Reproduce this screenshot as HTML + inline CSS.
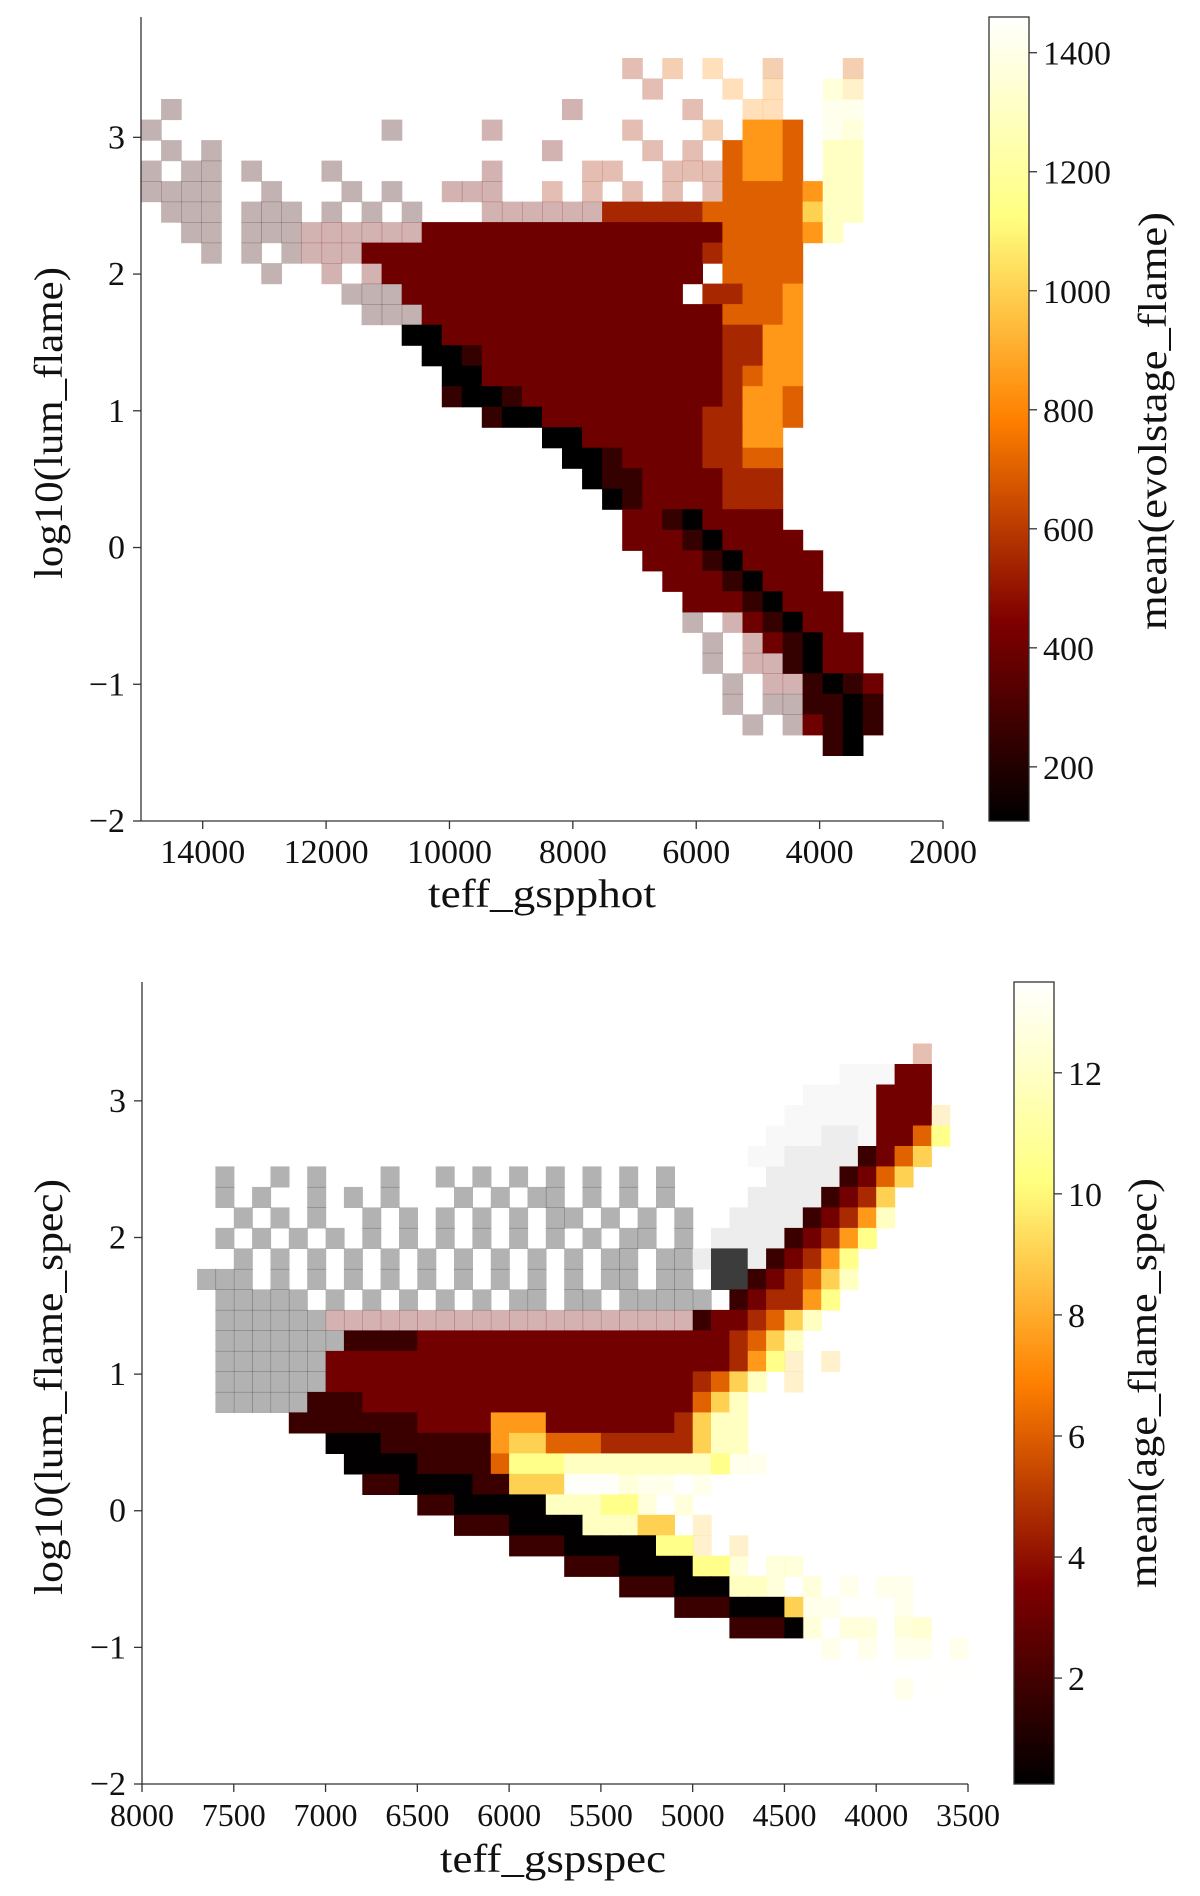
<!DOCTYPE html>
<html><head><meta charset="utf-8"><title>HR diagrams</title>
<style>
html,body{margin:0;padding:0;background:#fff;}
svg{display:block;font-family:"Liberation Serif","DejaVu Serif",serif;}
</style></head>
<body>
<svg id="fig" width="1200" height="1896" viewBox="0 0 1200 1896" xmlns="http://www.w3.org/2000/svg">
<defs>
<linearGradient id="afm" x1="0" y1="1" x2="0" y2="0">
<stop offset="0" stop-color="#000000"/><stop offset="0.25" stop-color="#800000"/><stop offset="0.5" stop-color="#ff8000"/><stop offset="0.75" stop-color="#ffff80"/><stop offset="1" stop-color="#ffffff"/>
</linearGradient>
</defs>
<g id="top"></g>
<g id="bot"></g>
</svg>
<script>
// ---- data: heatmap rows, "startCol:levels" segments (0-9 solid, a-j sparse, p/q/r grey) ----
const topXTicks = [14000, 12000, 10000, 8000, 6000, 4000, 2000];
const topYTicks = [-2, -1, 0, 1, 2, 3];
const topCbarTicks = [200, 400, 600, 800, 1000, 1200, 1400];
const topLevelValues = [100, 250, 400, 550, 700, 850, 1000, 1150, 1300, 1450];
const topRows = [
"", "",
"24:d.e.f 31:e 35:e",
"25:d 29:f.f 34:hg",
"1:b 21:c 27:d 30:ff 34:ii",
"0:b 12:b 17:c 24:d 28:e 30:554 34:ih",
"1:b.b 20:c 25:d.d 29:4554 34:88",
"0:b.bb.b 9:b 17:c 22:dd 26:ddd4554 34:88",
"0:bbbb 6:b 10:b.b 15:ccc 20:d.d.d.d.d4444588",
"1:bbb 5:bbb 9:b.b.b 17:cccccc33333 28:44444 33:6 34:88",
"2:bb 5:bbb 8:cccccc222222222222222 29:44445 34:8",
"3:b.b.b 8:ccc22222222222222222 28:34444",
"6:b 9:c.c 12:2222222222222222 29:4444",
"10:bbb 13:22222222222222 28:33445",
"11:bbb 14:222222222222222 29:4445",
"13:00 15:22222222222222 29:3355",
"14:001 17:222222222222 29:3355",
"15:00 17:222222222222 29:3455",
"15:1001 19:2222222222 29:3554",
"17:100 20:22222222 28:33554",
"20:00 22:222222 28:3355",
"21:001 24:2222 28:3344",
"22:011 25:2222 29:333",
"23:01 25:2222 29:333",
"24:22102222",
"24:222102222",
"25:222102222",
"26:22210222",
"27:22210222",
"27:b.c21022",
"28:b.c21022",
"28:b.cc1022",
"29:b.cc1012",
"29:b.bb1101",
"30:b.b2101",
"34:10",
"", "", "", ""
];
const botXTicks = [8000, 7500, 7000, 6500, 6000, 5500, 5000, 4500, 4000, 3500];
const botYTicks = [-2, -1, 0, 1, 2, 3];
const botCbarTicks = [2, 4, 6, 8, 10, 12];
const botLevelValues = [0.3, 1.75, 3.2, 4.65, 6.1, 7.55, 9.0, 10.45, 11.9, 13.35];
const botRows = [
"", "", "",
"42:d",
"38:ppp 41:22",
"36:pppp 40:222",
"35:ppppp 40:222g",
"34:pppqqp 40:2247",
"33:ppqqqq 39:1246",
"4:a..a.a...a 16:a.a.a.a.a.a.a 34:qqqq 38:1246",
"4:a.a..a.a.a 16:.a.a.aa.a.a.a 33:qqqq 37:1236",
"4:.a.a.a..a.a.a.a.a.aa.a.a.a 32:qqqq 36:12358",
"4:a.a.a.a.a.a.a.a.a.a.a.aa.a 31:qqqq 35:12357",
"4:.a.a.a.a.a.a.a.a.a.a.aa.aa 30:qrrq 34:12357",
"3:aaa.a.a.a.a.a.a.a.a.a.aa.aa 31:rr 33:123468",
"4:aaaaa.a.a.a.a.a.aa.aa.aaaaa 32:123357",
"4:aaaaaa 10:cccccccccccccccccccc 30:1223468",
"4:aaaaaaa 11:1111222222222222222 30:223468",
"4:aaaaaa 10:222222222222222222222 31:2357 35:g.g",
"4:aaaaaa 10:22222222222222222222 30:3468 35:g",
"4:aaaaa 9:111 12:22222222 20:2222222 27:222 30:468",
"8:111 11:11112222 19:555 22:2222222 29:3688",
"10:000 13:111111 19:566 22:444 25:33333 30:688",
"11:0000 15:1111 19:4777 23:8888 27:8888 31:7ii",
"12:11 14:0000 18:11 20:666 23:999 26:hii.i",
"15:11 17:00000 22:888 25:77 27:h.h",
"17:111 20:0000 24:888 27:66 30:g",
"20:111 23:00000 28:77 30:g.g",
"23:111 26:0000 30:77 32:h.hh",
"26:111 29:000 32:88 34:h.h.i.ii",
"29:111 32:000 35:6iijjji",
"32:111 35:0 36:h.hh.hh 42:i",
"37:i.i.ii.i",
"39:j.j.jj",
"41:i.j",
"", "", "", "", ""
];

// ---- helpers ----
const NS = "http://www.w3.org/2000/svg";
function mk(tag, attrs, parent) {
  const e = document.createElementNS(NS, tag);
  for (const k in attrs) e.setAttribute(k, attrs[k]);
  parent.appendChild(e);
  return e;
}
function afmhot(t) {
  t = Math.max(0, Math.min(1, t));
  const c = x => Math.round(255 * Math.max(0, Math.min(1, x)));
  return "rgb(" + c(2 * t) + "," + c(2 * t - 0.5) + "," + c(2 * t - 1) + ")";
}
const greys = { p: "#f8f8f8", q: "#ededed", r: "#3c3c3c" };

function drawPanel(g, cfg) {
  const { xMin, xMax, x0, x1, yMin, yMax, y0, y1, cellX, cellY, rows, levels, vmin, vmax } = cfg;
  const sx = v => x0 + (xMin - v) / (xMin - xMax) * (x1 - x0);
  const sy = v => y1 - (v - yMin) / (yMax - yMin) * (y1 - y0);
  const heat = mk("g", {}, g);
  
  
  rows.forEach((row, i) => {
    const Ltop = yMax - i * cellY;
    row.split(" ").filter(s => s).forEach(seg => {
      const [st, chars] = seg.split(":");
      const start = +st;
      for (let k = 0; k < chars.length; k++) {
        const ch = chars[k];
        if (ch === ".") continue;
        const j = start + k;
        const xa = sx(xMin - j * cellX), xb = sx(xMin - (j + 1) * cellX);
        const ya = sy(Ltop), yb = sy(Ltop - cellY);
        let fill, op = 1;
        if (greys[ch]) fill = greys[ch];
        else {
          let lv;
          if (ch >= "0" && ch <= "9") lv = +ch;
          else { lv = ch.charCodeAt(0) - 97; op = 0.3; }
          fill = afmhot((levels[lv] - vmin) / (vmax - vmin));
        }
        const r = mk("rect", { x: xa.toFixed(1), y: ya.toFixed(1), width: (xb - xa + 0.6).toFixed(1), height: (yb - ya + 0.6).toFixed(1), fill: fill, "fill-opacity": op }, heat);
        
        
      }
    });
  });
  const ax = mk("g", { stroke: "#333", "stroke-width": 1.3, fill: "none" }, g);
  
  
  const ys = mk("line", { x1: x0, y1: y0, x2: x0, y2: y1 }, ax);
  
  
  const xs = mk("line", { x1: x0, y1: y1, x2: x1, y2: y1 }, ax);
  
  
  cfg.xTicks.forEach(t => {
    const x = sx(t);
    mk("line", { x1: x, y1: y1, x2: x, y2: y1 + 8 }, ax);
    const tx = mk("text", { x: x, y: y1 + 42, "text-anchor": "middle", "font-size": cfg.tickFont, fill: "#111", stroke: "none" }, g);
    tx.textContent = t;
    
    
  });
  cfg.yTicks.forEach(t => {
    const y = sy(t);
    mk("line", { x1: x0 - 8, y1: y, x2: x0, y2: y }, ax);
    const tx = mk("text", { x: x0 - 16, y: y + 11, "text-anchor": "end", "font-size": 34, fill: "#111", stroke: "none" }, g);
    tx.textContent = t < 0 ? "\u2212" + Math.abs(t) : t;
    
    
  });
  const cb = cfg.cbar;
  const cr = mk("rect", { x: cb.x, y: y0, width: cb.w, height: y1 - y0, fill: "url(#afm)", stroke: "#333", "stroke-width": 1.3 }, g);
  
  
  const cy = v => y1 - (v - vmin) / (vmax - vmin) * (y1 - y0);
  cb.ticks.forEach(t => {
    const y = cy(t);
    mk("line", { x1: cb.x + cb.w, y1: y, x2: cb.x + cb.w + 8, y2: y, stroke: "#333", "stroke-width": 1.3 }, g);
    const tx = mk("text", { x: cb.x + cb.w + 14, y: y + 12, "font-size": 34, fill: "#111" }, g);
    tx.textContent = t;
    
    
  });
  const xl = mk("text", { x: cfg.xl.x, y: cfg.xl.y, "text-anchor": "middle", "font-size": 40, textLength: cfg.xl.len, lengthAdjust: "spacingAndGlyphs", fill: "#111" }, g);
  xl.textContent = cfg.xl.t;
  
  
  const yl = mk("text", { x: 0, y: 0, transform: "translate(" + cfg.yl.x + "," + cfg.yl.y + ") rotate(-90)", "text-anchor": "middle", "font-size": 40, textLength: cfg.yl.len, lengthAdjust: "spacingAndGlyphs", fill: "#111" }, g);
  yl.textContent = cfg.yl.t;
  
  
  const cl = mk("text", { x: 0, y: 0, transform: "translate(" + cfg.cl.x + "," + cfg.cl.y + ") rotate(-90)", "text-anchor": "middle", "font-size": 40, textLength: cfg.cl.len, lengthAdjust: "spacingAndGlyphs", fill: "#111" }, g);
  cl.textContent = cfg.cl.t;
  
  
}

drawPanel(document.getElementById("top"), {
  xMin: 15000, xMax: 2000, x0: 141, x1: 943, yMin: -2, yMax: 3.88, y0: 17, y1: 821,
  cellX: 325, cellY: 0.15, rows: topRows, levels: topLevelValues, vmin: 109, vmax: 1460,
  xTicks: topXTicks, yTicks: topYTicks, tickFont: 34,
  cbar: { x: 989, w: 40, ticks: topCbarTicks },
  xl: { x: 542, y: 907, len: 228, t: "teff_gspphot" },
  yl: { x: 62, y: 423, len: 312, t: "log10(lum_flame)" },
  cl: { x: 1166, y: 421, len: 418, t: "mean(evolstage_flame)" }
});
drawPanel(document.getElementById("bot"), {
  xMin: 8000, xMax: 3500, x0: 142, x1: 968, yMin: -2, yMax: 3.87, y0: 982, y1: 1784,
  cellX: 100, cellY: 0.15, rows: botRows, levels: botLevelValues, vmin: 0.25, vmax: 13.5,
  xTicks: botXTicks, yTicks: botYTicks, tickFont: 32,
  cbar: { x: 1014, w: 40, ticks: botCbarTicks },
  xl: { x: 553, y: 1872, len: 226, t: "teff_gspspec" },
  yl: { x: 62, y: 1387, len: 416, t: "log10(lum_flame_spec)" },
  cl: { x: 1156, y: 1383, len: 410, t: "mean(age_flame_spec)" }
});
</script>
</body></html>
